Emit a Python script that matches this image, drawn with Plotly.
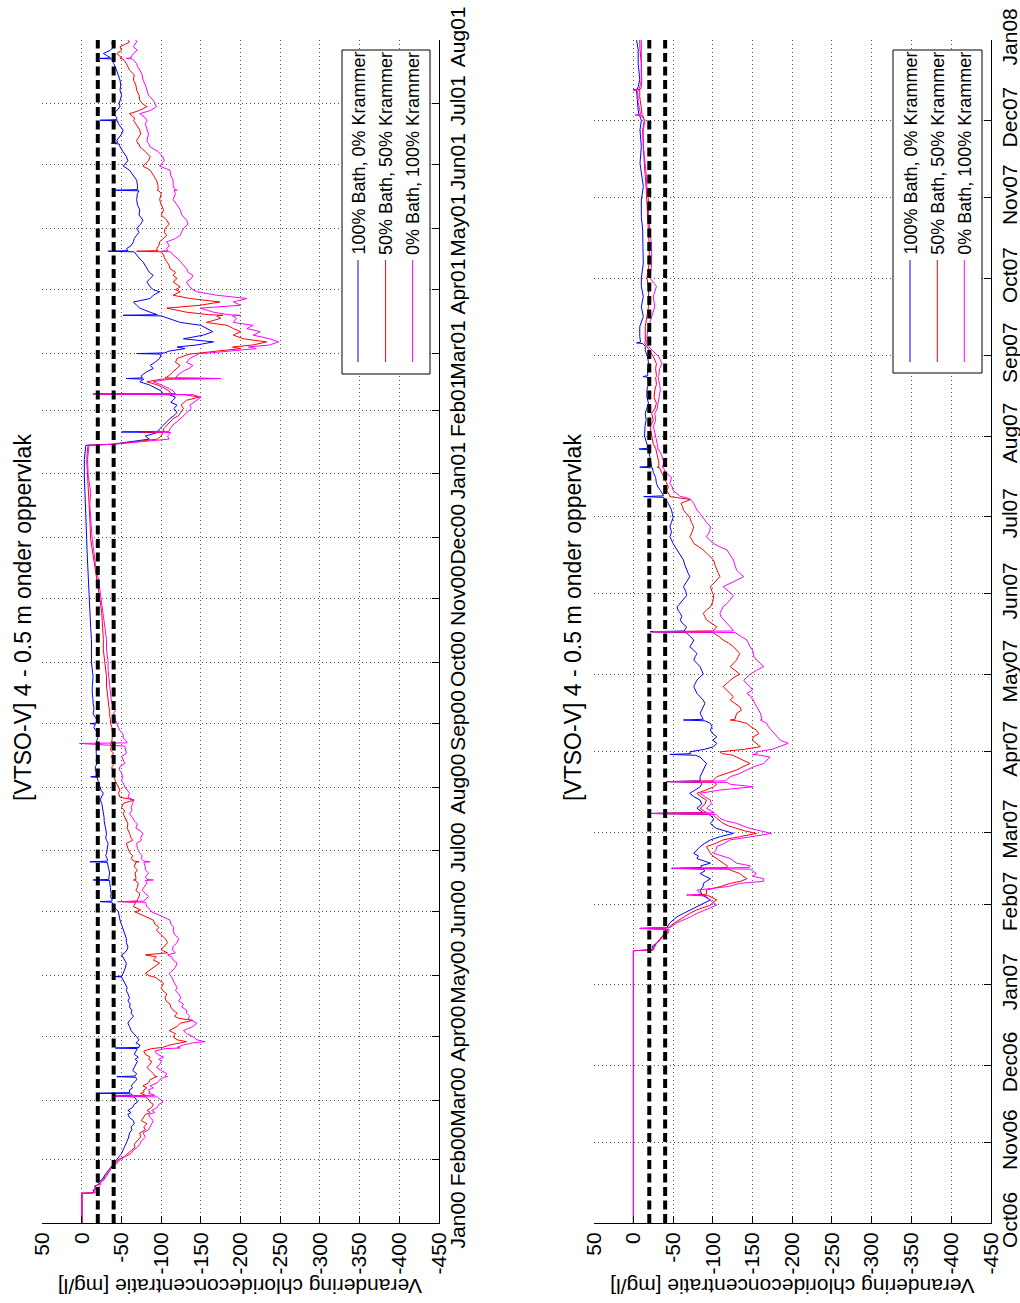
import pandas as pd
import plotly.graph_objects as go

# ---------------- data ----------------
series_names = ["100% Bath, 0% Krammer", "50% Bath, 50% Krammer", "0% Bath, 100% Krammer"]
series_colors = ["#0000FF", "#FF0000", "#FF00FF"]
thresholds = [-20, -40]

value_ticks = [50, 0, -50, -100, -150, -200, -250, -300, -350, -400, -450]
value_labels = ["50", "0", "-50", "-100", "-150", "-200", "-250", "-300", "-350", "-400", "-450"]

top_start, top_end = "2000-01-01", "2001-08-01"
top_tick_dates = ["2000-01-01", "2000-02-01", "2000-03-01", "2000-04-01", "2000-05-01", "2000-06-01",
                  "2000-07-01", "2000-08-01", "2000-09-01", "2000-10-01", "2000-11-01", "2000-12-01",
                  "2001-01-01", "2001-02-01", "2001-03-01", "2001-04-01", "2001-05-01", "2001-06-01",
                  "2001-07-01", "2001-08-01"]
top_tick_labels = ["Jan00", "Feb00", "Mar00", "Apr00", "May00", "Jun00", "Jul00", "Aug00", "Sep00",
                   "Oct00", "Nov00", "Dec00", "Jan01", "Feb01", "Mar01", "Apr01", "May01", "Jun01",
                   "Jul01", "Aug01"]

bot_start, bot_end = "2006-10-01", "2008-01-01"
bot_tick_dates = ["2006-10-01", "2006-11-01", "2006-12-01", "2007-01-01", "2007-02-01", "2007-03-01",
                  "2007-04-01", "2007-05-01", "2007-06-01", "2007-07-01", "2007-08-01", "2007-09-01",
                  "2007-10-01", "2007-11-01", "2007-12-01", "2008-01-01"]
bot_tick_labels = ["Oct06", "Nov06", "Dec06", "Jan07", "Feb07", "Mar07", "Apr07", "May07", "Jun07",
                   "Jul07", "Aug07", "Sep07", "Oct07", "Nov07", "Dec07", "Jan08"]

# ---- top panel: days since 2000-01-01 ----
top_days = [
    0, 14.5, 14.8, 16, 17, 18, 19, 20, 21, 22.5,
    24, 25.5, 27.6, 29, 31, 32.5, 34, 35.5, 37, 38.5,
    40, 42, 44, 45.5, 47, 48.5, 50, 51.5, 53, 54,
    55, 56.5, 58, 59, 60, 61.6, 62, 62.4, 63.1, 63.4,
    63.7, 65, 66, 67, 68.5, 70, 71.2, 71.5, 71.8, 73,
    74.5, 76, 77.5, 79, 80, 81, 82.5, 84, 85.2, 85.5,
    85.8, 87, 88, 88.6, 89.5, 91, 92.5, 94, 96, 97.6,
    99, 100, 101, 102.5, 104, 105.5, 107, 108.5, 110, 112,
    113.5, 115, 117, 119, 120.2, 120.4, 120.6, 122, 123.6, 125,
    127, 128.5, 130, 131, 132, 133.5, 135, 137, 139, 141,
    143, 144.5, 146, 148, 150, 152, 153, 154.6, 156.7, 157,
    157.3, 158, 159.5, 161, 162.5, 164, 166, 167.3, 167.6, 167.9,
    169, 171, 172.5, 174, 176.2, 176.5, 176.8, 178, 179.5, 180.6,
    183, 185.5, 187, 188, 190.4, 192, 193, 195, 196.5, 198,
    200, 201.5, 203, 205, 206.7, 208, 210, 211.5, 213, 215,
    216, 217.7, 218, 218.3, 220, 221.5, 223, 224.5, 226, 228,
    229.5, 231, 233, 234.3, 234.6, 236, 237, 239, 240.5, 242,
    243.7, 244, 244.3, 246, 247.5, 249, 250.5, 252, 254, 255.5,
    259, 262, 267, 270, 274, 280, 285, 291, 298, 304,
    309, 314, 318, 322, 328, 334, 344, 351, 357, 362,
    365, 373, 378, 380, 380.5, 381.5, 383, 384.5, 386.2, 386.5,
    386.8, 388, 390, 391.5, 393, 394.5, 396, 398, 399.6, 401,
    402, 403.5, 404.7, 405, 405.3, 406.5, 407.7, 409.5, 411, 412.3,
    412.6, 412.9, 414, 416, 417.5, 419, 420.5, 422.4, 424.5, 424.8,
    425.1, 426, 427.2, 428, 429, 430.5, 432, 433.8, 435.5, 437,
    438.6, 440, 442, 443.2, 443.5, 443.8, 445, 447, 448.4, 450,
    451.7, 453.3, 455, 456, 457.4, 459.8, 461.5, 463, 464.5, 466.3,
    468, 469.6, 471.5, 473, 474.5, 474.8, 475.1, 476, 477.5, 479.4,
    481, 482.6, 484, 486, 488, 490, 492.5, 495, 497.5, 500,
    503, 504.3, 504.6, 504.9, 507, 509.5, 512, 514.4, 516.4, 518,
    519, 521, 523.5, 525.8, 527.2, 527.5, 527.8, 529, 532, 534,
    537, 538.5, 538.8, 539.1, 540, 542, 543.5, 545.4, 547, 548.6,
    551, 553.5, 556, 558.4, 561, 563.3, 565, 566.5, 568.7, 569,
    569.3, 570.3, 571.4, 573, 574.7, 576, 577, 578]
top_blue = [
    0, 0, -15, -14, -17, -16, -22, -20, -25, -27,
    -30, -33, -37, -40, -43, -47, -50, -52, -54, -56,
    -57, -59, -60, -63, -62, -66, -65, -60, -58, -62,
    -58, -64, -66, -70, -69, -66, -42, -64, -62, -21,
    -60, -60, -64, -62, -66, -69, -68, -44, -67, -69,
    -64, -66, -68, -70, -67, -71, -66, -68, -70, -42,
    -72, -73, -68, -70, -72, -69, -66, -62, -60, -58,
    -60, -63, -65, -62, -63, -60, -61, -58, -60, -58,
    -56, -57, -54, -52, -50, -42, -50, -52, -54, -55,
    -56, -54, -52, -50, -54, -57, -58, -56, -56, -54,
    -52, -51, -50, -48, -47, -46, -44, -40, -38, -23,
    -38, -38, -36, -37, -36, -36, -35, -35, -14, -34,
    -34, -35, -34, -33, -32, -10, -32, -32, -30, -31,
    -32, -33, -31, -30, -31, -30, -30, -29, -28, -28,
    -27, -26, -26, -25, -23, -25, -27, -24, -23, -21,
    -20, -19, -11, -18, -18, -17, -17, -19, -18, -19,
    -18, -18, -18, -18, -18, -19, -20, -21, -18, -15,
    -17, -10, -18, -19, -16, -14, -15, -15, -14, -14,
    -13, -13, -14, -13, -12, -12, -12, -11, -10, -10,
    -9, -8, -7.5, -7, -6.5, -6, -5, -4.5, -4, -3,
    -3, -3, -4, -5, -38, -55, -85, -80, -95, -50,
    -96, -98, -103, -106, -111, -116, -120, -116, -120, -112,
    -115, -118, -110, -15, -102, -100, -94, -85, -73, -78,
    -56, -76, -75, -82, -90, -86, -92, -98, -100, -69,
    -104, -110, -130, -120, -145, -166, -128, -153, -165, -157,
    -150, -124, -108, -100, -52, -95, -86, -73, -69, -65,
    -86, -90, -98, -90, -86, -82, -86, -90, -85, -82,
    -80, -77, -72, -69, -66, -33, -58, -56, -62, -65,
    -66, -69, -72, -69, -74, -77, -72, -73, -70, -69,
    -70, -72, -42, -70, -70, -69, -64, -60, -52, -56,
    -58, -56, -52, -48, -47, -37, -45, -44, -50, -52,
    -46, -45, -23, -44, -44, -40, -44, -48, -47, -48,
    -50, -48, -49, -48, -46, -44, -42, -40, -38, -23,
    -36, -32, -27, -36, -40, -38, -38, -40]
top_red = [
    0, 0, -15, -15, -18, -17, -22, -24, -26, -29,
    -32, -35, -38, -42, -46, -54, -58, -63, -67, -66,
    -70, -74, -73, -80, -78, -82, -75, -78, -80, -86,
    -82, -88, -90, -86, -85, -80, -60, -80, -76, -74,
    -78, -78, -82, -77, -84, -86, -92, -95, -92, -90,
    -86, -82, -86, -88, -84, -86, -80, -78, -88, -100,
    -102, -111, -125, -132, -120, -115, -118, -110, -120, -124,
    -140, -122, -117, -120, -115, -112, -111, -106, -105, -107,
    -102, -100, -103, -96, -92, -88, -86, -80, -86, -92,
    -98, -90, -94, -80, -108, -100, -103, -108, -105, -100,
    -94, -97, -92, -90, -78, -67, -74, -65, -68, -50,
    -70, -70, -72, -73, -68, -70, -71, -68, -65, -68,
    -68, -67, -70, -66, -68, -72, -66, -62, -64, -61,
    -58, -56, -64, -62, -60, -58, -57, -58, -56, -54,
    -52, -54, -50, -52, -66, -48, -46, -48, -46, -44,
    -42, -41, -40, -41, -40, -38, -38, -41, -40, -37,
    -40, -36, -37, -36, -37, -38, -38, -40, -38, -38,
    -37, -37, -36, -36, -35, -35, -35, -34, -33, -33,
    -32, -31, -31, -30, -29, -27, -27, -26, -25, -23,
    -21, -19.5, -18, -16, -14, -11, -10, -9, -8, -7,
    -7, -6, -7, -8, -40, -60, -95, -100, -102, -75,
    -103, -103, -108, -112, -115, -122, -125, -128, -125, -130,
    -132, -148, -130, -14, -112, -110, -105, -95, -82, -100,
    -175, -105, -110, -115, -120, -124, -118, -120, -135, -140,
    -150, -170, -200, -190, -216, -233, -204, -191, -200, -191,
    -183, -157, -175, -170, -178, -160, -132, -107, -149, -174,
    -136, -115, -124, -118, -124, -115, -120, -115, -118, -111,
    -110, -107, -104, -103, -100, -69, -96, -94, -97, -98,
    -102, -107, -104, -105, -110, -107, -100, -103, -100, -98,
    -100, -97, -95, -96, -96, -94, -90, -86, -77, -82,
    -84, -86, -80, -73, -72, -70, -70, -69, -74, -73,
    -68, -66, -65, -66, -66, -60, -72, -82, -76, -73,
    -72, -69, -68, -65, -66, -60, -58, -56, -52, -48,
    -50, -47, -44, -50, -48, -55, -60, -58]
top_mag = [
    0, 0, -17, -16, -20, -22, -24, -23, -28, -30,
    -33, -34, -38, -44, -48, -55, -62, -65, -70, -73,
    -75, -80, -77, -84, -86, -88, -90, -86, -84, -92,
    -88, -95, -97, -102, -100, -95, -42, -92, -86, -84,
    -86, -84, -90, -86, -95, -98, -104, -108, -105, -107,
    -100, -94, -98, -100, -97, -103, -95, -92, -105, -124,
    -120, -128, -140, -155, -145, -140, -132, -128, -140, -145,
    -138, -134, -136, -132, -132, -126, -128, -122, -125, -122,
    -118, -120, -117, -115, -114, -113, -112, -110, -115, -118,
    -120, -115, -113, -108, -118, -114, -115, -120, -122, -117,
    -115, -116, -112, -111, -100, -88, -86, -82, -80, -45,
    -78, -80, -84, -80, -76, -78, -82, -80, -90, -82,
    -80, -84, -80, -80, -78, -86, -78, -75, -76, -73,
    -70, -69, -75, -74, -77, -72, -68, -70, -66, -64,
    -60, -63, -62, -64, -65, -58, -60, -57, -54, -52,
    -50, -51, -52, -51, -50, -47, -48, -54, -52, -50,
    -56, -55, -54, 3, -57, -55, -52, -52, -48, -46,
    -45, -44, -44, -42, -41, -40, -42, -40, -38, -37,
    -36, -35, -34, -33, -33, -31, -31, -29, -27, -25,
    -23, -21, -19, -17, -15, -13, -11, -10, -11, -9,
    -8, -7, -8, -9, -40, -70, -110, -108, -112, -90,
    -110, -111, -115, -120, -124, -128, -132, -138, -136, -142,
    -145, -150, -140, -14, -118, -115, -110, -100, -90, -110,
    -175, -118, -120, -127, -135, -140, -132, -136, -145, -148,
    -160, -190, -220, -210, -237, -248, -237, -216, -225, -208,
    -216, -191, -195, -190, -200, -185, -166, -149, -200, -191,
    -208, -170, -145, -140, -136, -132, -138, -140, -134, -132,
    -128, -124, -120, -115, -112, -100, -108, -107, -110, -107,
    -118, -124, -126, -128, -134, -132, -126, -124, -120, -115,
    -118, -116, -120, -117, -115, -115, -112, -111, -98, -102,
    -104, -102, -96, -86, -85, -84, -83, -82, -84, -82,
    -80, -82, -82, -81, -80, -73, -86, -94, -92, -90,
    -84, -82, -80, -77, -76, -73, -70, -69, -64, -56,
    -62, -63, -65, -70, -65, -67, -69, -68]

# ---- bottom panel: days since 2006-10-01 ----
bot_days = [
    0, 105.2, 105.5, 107, 108, 109.3, 110.6, 112, 113.5, 113.8,
    114.1, 116, 117, 118.3, 119.6, 121, 122.8, 123.8, 124.8, 126.4,
    126.7, 127, 128.6, 130, 131.2, 132, 133, 134, 135, 136,
    136.7, 137, 137.3, 138, 139, 140.8, 141.8, 142.8, 144, 145.4,
    146.7, 148, 149.3, 150.5, 151.5, 152.4, 153.4, 154.4, 155.4, 156.3,
    157.9, 158.2, 158.5, 160.2, 161.8, 163.4, 164.7, 166, 167.3, 168.5,
    169.5, 170.2, 170.5, 170.8, 172.4, 173.7, 175, 176.3, 177.5, 178.8,
    180, 180.7, 181, 181.3, 182, 183, 184, 185.3, 186.5, 187.8,
    189, 190.4, 191.7, 193, 194, 194.3, 194.6, 196.9, 198, 199.4,
    200.7, 202, 203.3, 204.6, 205.9, 207.2, 208.5, 209.7, 211, 212,
    213.5, 214.9, 216.2, 217.5, 218.8, 220, 221.3, 222.6, 224, 225.2,
    226.5, 227.8, 228.1, 228.4, 228.7, 230.3, 231.6, 233, 234.3, 235.5,
    236.8, 238, 240, 242.4, 244, 245.8, 247.7, 249.7, 251, 252.2,
    254, 256.1, 258, 260, 261.3, 262.5, 263.8, 265.1, 267, 269,
    270.7, 272.5, 274, 275.4, 276.7, 278, 279.5, 280.3, 280.6, 280.9,
    283, 284.3, 285.7, 288, 290, 291.7, 292, 292.3, 294, 297,
    298.7, 299, 299.3, 301, 304, 307.7, 310, 312.8, 314.5, 316.7,
    319, 321.8, 324, 326.7, 327, 327.3, 330, 332, 334.7, 337,
    338.6, 339.7, 340, 340.3, 342.4, 346.3, 350.2, 354, 357.9, 361.8,
    365, 370.8, 377.2, 383.6, 388.8, 395.2, 400.4, 405.5, 409.4, 415.8,
    422.3, 426, 427.7, 428, 428.3, 430, 433, 435, 437.4, 437.7,
    438, 439, 441.6, 445, 448, 453.2, 456.4, 457]
bot_blue = [
    0, 0, -25, -24, -29, -32, -36, -40, -41, -8,
    -42, -46, -50, -55, -63, -72, -84, -90, -97, -88,
    -80, -86, -84, -88, -88, -92, -97, -90, -84, -90,
    -88, -48, -86, -85, -97, -80, -82, -76, -80, -84,
    -90, -97, -110, -126, -115, -105, -100, -97, -100, -101,
    -95, -19, -88, -80, -86, -84, -76, -71, -78, -84,
    -86, -85, -42, -84, -84, -86, -88, -90, -92, -88,
    -84, -78, -46, -72, -71, -90, -101, -105, -100, -105,
    -100, -97, -99, -97, -90, -63, -88, -84, -86, -88,
    -90, -88, -84, -80, -78, -76, -78, -80, -84, -88,
    -86, -84, -80, -76, -78, -80, -76, -71, -74, -76,
    -72, -67, -66, -21, -64, -67, -62, -59, -61, -59,
    -56, -55, -60, -67, -66, -63, -67, -71, -69, -67,
    -65, -63, -59, -55, -52, -50, -48, -46, -48, -46,
    -48, -50, -49, -48, -46, -44, -40, -38, -13, -38,
    -34, -31, -29, -28, -25, -24, -8, -23, -22, -20,
    -19, -7, -18, -17, -14, -14.6, -16, -15, -17, -19,
    -17, -17, -19, -18, -12, -18, -18, -19, -18, -15,
    -15, -12, -4, -9, -8, -8, -12.5, -10, -12.5, -10,
    -10, -12.5, -12, -11.7, -10, -10, -12.5, -10, -8.3, -10,
    -8.3, -10, -8, -6, -7, -6, -5, -4, -4, 0,
    -5, -6, -8, -7, -6, -6, -4, -4]
bot_red = [
    0, 0, -25, -26, -29, -33, -36, -42, -43, -10,
    -44, -52, -57, -64, -71, -80, -97, -100, -105, -95,
    -75, -92, -92, -110, -122, -135, -143, -138, -134, -125,
    -120, -60, -118, -118, -113, -105, -100, -97, -95, -92,
    -104, -113, -135, -155, -140, -130, -120, -113, -108, -105,
    -100, -20, -92, -84, -90, -92, -85, -80, -92, -101,
    -105, -102, -45, -100, -105, -118, -130, -138, -147, -138,
    -130, -125, -120, -112, -109, -140, -160, -155, -150, -151,
    -158, -155, -148, -143, -130, -122, -128, -130, -136, -134,
    -128, -122, -126, -122, -118, -113, -118, -122, -128, -134,
    -128, -122, -126, -130, -132, -134, -130, -126, -120, -113,
    -108, -101, -100, -24, -100, -105, -98, -92, -90, -88,
    -92, -97, -100, -101, -99, -97, -103, -109, -107, -105,
    -103, -101, -95, -88, -82, -76, -74, -71, -74, -76,
    -73, -71, -67, -63, -62, -60, -72, -50, -46, -46,
    -42, -44, -42, -38, -35, -33, -30, -32, -32, -30,
    -29, -28, -28, -25, -23, -21, -25, -23, -27, -29,
    -26, -27, -29, -28, -29, -29, -28, -29, -25, -20,
    -17, -15, -14, -15, -15, -15, -17, -19, -19, -19,
    -17, -20, -20, -19, -17.5, -17, -16, -14.6, -13.5, -12.5,
    -11.7, -13.8, -12, -10, -11, -10, -9, -8, -8, -6,
    -9, -10, -10, -10, -10, -8.3, -8.3, -8]
bot_mag = [
    0, 0, -25, -28, -29, -34, -38, -44, -45, -8,
    -46, -55, -63, -72, -80, -90, -105, -100, -97, -90,
    -67, -85, -80, -120, -134, -164, -164, -150, -155, -150,
    -148, -50, -146, -147, -130, -122, -110, -101, -104, -105,
    -115, -122, -150, -174, -160, -147, -138, -130, -116, -109,
    -104, -19, -102, -92, -98, -97, -90, -84, -110, -151,
    -122, -118, -44, -116, -122, -134, -143, -152, -164, -168,
    -172, -160, -150, -156, -155, -175, -185, -195, -185, -181,
    -178, -174, -170, -168, -162, -160, -162, -160, -158, -155,
    -153, -151, -148, -143, -150, -147, -142, -139, -144, -147,
    -155, -164, -160, -155, -152, -151, -150, -147, -145, -143,
    -136, -130, -128, -25, -126, -122, -118, -113, -110, -109,
    -111, -113, -120, -126, -120, -113, -126, -139, -134, -130,
    -128, -126, -122, -118, -108, -101, -96, -92, -96, -97,
    -92, -88, -84, -80, -78, -76, -72, -66, -60, -58,
    -50, -49, -46, -48, -40, -38, -36, -37, -38, -35,
    -32, -30, -31, -30, -28, -25, -28, -27, -30, -31,
    -32, -34, -33, -32, -31, -32, -33, -36, -32, -24,
    -19, -17, -16, -17, -17, -19, -23, -27, -25, -29,
    -21, -23, -23, -21, -19, -19, -17, -16, -15, -12.5,
    -12.5, -14.6, -10, -2, -9, -8, -6, -6, -5, 0,
    -7, -8, -10.5, -10, -10, -10.5, -10.5, -10]

for arr in (top_blue, top_red, top_mag):
    assert len(arr) == len(top_days), (len(arr), len(top_days))
for arr in (bot_blue, bot_red, bot_mag):
    assert len(arr) == len(bot_days), (len(arr), len(bot_days))

# ---------------- figure ----------------
W, H = 1020, 1303
FONT = "Liberation Sans, Arial, Helvetica, sans-serif"


def px_x(p):
    return p / W


def px_y(p):
    return 1 - p / H


def to_dates(start, days):
    return [pd.Timestamp(start) + pd.to_timedelta(d, unit="D") for d in days]


fig = go.Figure()

panels = [
    dict(xa="x", ya="y", start=top_start, end=top_end, days=top_days,
         vals=[top_blue, top_red, top_mag]),
    dict(xa="x2", ya="y2", start=bot_start, end=bot_end, days=bot_days,
         vals=[bot_blue, bot_red, bot_mag]),
]

for p in panels:
    dates = to_dates(p["start"], p["days"])
    for name, color, vals in zip(series_names, series_colors, p["vals"]):
        fig.add_trace(go.Scatter(x=vals, y=dates, mode="lines", name=name,
                                 line=dict(color=color, width=1),
                                 xaxis=p["xa"], yaxis=p["ya"], showlegend=False))
    for t in thresholds:
        fig.add_trace(go.Scatter(x=[t, t], y=[p["start"], p["end"]], mode="lines",
                                 line=dict(color="black", width=4, dash="9px,4.5px"),
                                 xaxis=p["xa"], yaxis=p["ya"], showlegend=False, hoverinfo="skip"))

tickfont = dict(family=FONT, size=21, color="black")
common_x = dict(range=[50, -450], tickmode="array", tickvals=value_ticks, ticktext=value_labels,
                tickangle=-90, ticks="inside", ticklen=7, tickcolor="black", tickwidth=1,
                showline=True, linecolor="black", linewidth=1, mirror=False, zeroline=False,
                showgrid=True, gridcolor="#555555", gridwidth=1, griddash="1px,3px",
                tickfont=tickfont, automargin=False)
common_y = dict(type="date", side="right", tickangle=-90, ticks="inside", ticklen=7,
                tickcolor="black", tickwidth=1, showline=True, linecolor="black", linewidth=1,
                mirror=False, zeroline=False, showgrid=True, gridcolor="#555555", gridwidth=1,
                griddash="1px,3px", tickfont=tickfont, tickmode="array", automargin=False)

ydom = [px_y(1223), px_y(40)]
fig.update_layout(
    width=W, height=H, margin=dict(l=0, r=0, t=0, b=0),
    paper_bgcolor="white", plot_bgcolor="white", showlegend=False,
    xaxis=dict(domain=[px_x(42.3), px_x(438.7)], anchor="y", **common_x),
    xaxis2=dict(domain=[px_x(593.7), px_x(990.7)], anchor="y2", **common_x),
    yaxis=dict(domain=ydom, anchor="x", range=[top_start, top_end],
               tickvals=top_tick_dates, ticktext=top_tick_labels, **common_y),
    yaxis2=dict(domain=ydom, anchor="x2", range=[bot_start, bot_end],
                tickvals=bot_tick_dates, ticktext=bot_tick_labels, **common_y),
)

title_text = "[VTSO-V] 4 - 0.5 m onder oppervlak"
ytitle_text = "Verandering chlorideconcentratie [mg/l]"
annotations = []
shapes = []
for cx_title, cx_axis, box, line_xs in [
    (23, 240.5, (342, 430, 50, 374), (358, 385.6, 412.6)),
    (573, 792.2, (893, 982, 50, 373), (910, 937.3, 964.3)),
]:
    annotations.append(dict(text=title_text, x=px_x(cx_title), y=px_y(618), xref="paper", yref="paper",
                            textangle=-90, showarrow=False, xanchor="center", yanchor="middle",
                            font=dict(family=FONT, size=23, color="black")))
    annotations.append(dict(text=ytitle_text, x=px_x(cx_axis), y=px_y(1287), xref="paper", yref="paper",
                            textangle=180, showarrow=False, xanchor="center", yanchor="middle",
                            font=dict(family=FONT, size=21, color="black")))
    x0, x1, y0, y1 = box
    shapes.append(dict(type="rect", xref="paper", yref="paper", x0=px_x(x0), x1=px_x(x1),
                       y0=px_y(y1), y1=px_y(y0), line=dict(color="black", width=1),
                       fillcolor="white", layer="above"))
    for lx, name, color in zip(line_xs, series_names, series_colors):
        shapes.append(dict(type="line", xref="paper", yref="paper", x0=px_x(lx), x1=px_x(lx),
                           y0=px_y(362), y1=px_y(260), line=dict(color=color, width=1), layer="above"))
        annotations.append(dict(text=name, x=px_x(lx), y=px_y(257), xref="paper", yref="paper",
                                textangle=-90, showarrow=False, xanchor="center", yanchor="bottom",
                                font=dict(family=FONT, size=18, color="black")))

fig.update_layout(annotations=annotations, shapes=shapes)
fig.write_html("out.html")
